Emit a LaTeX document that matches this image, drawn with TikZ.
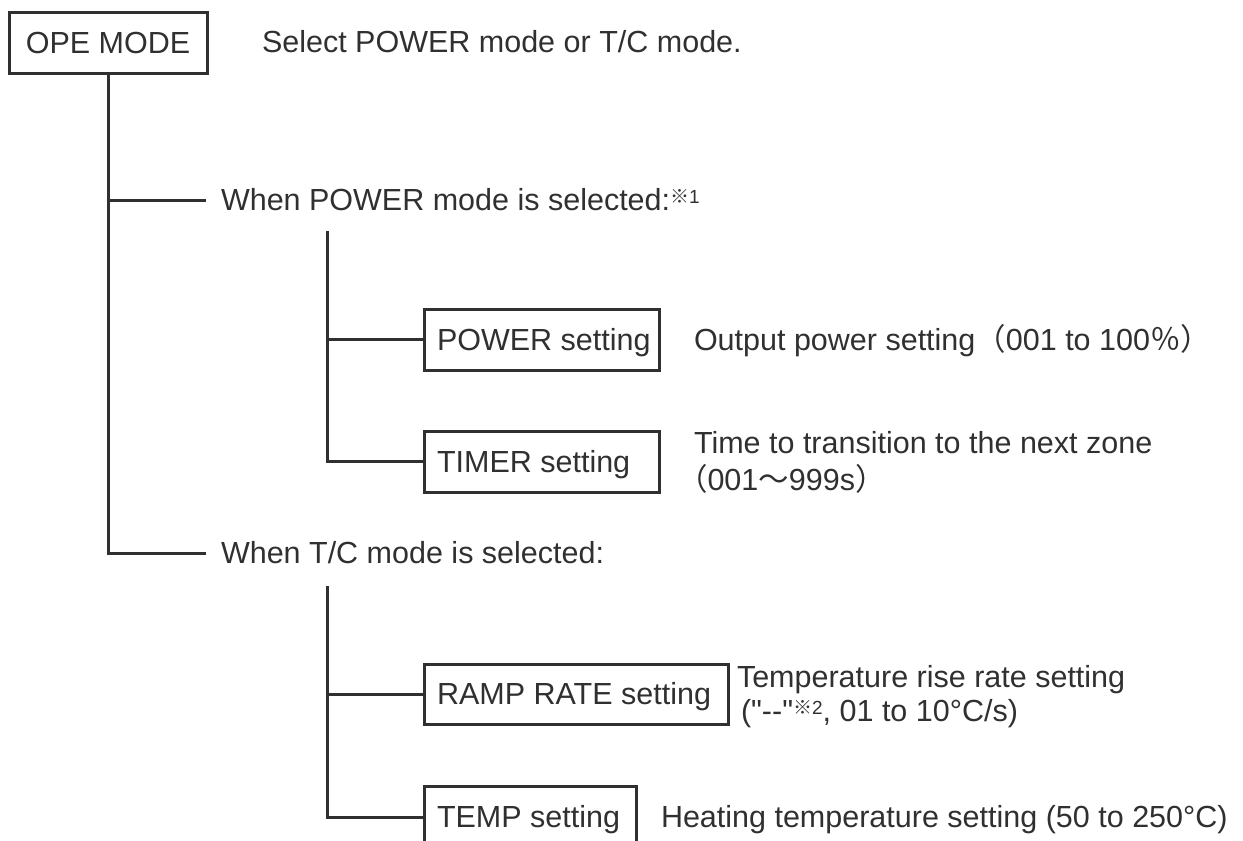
\documentclass[tikz,border=0pt]{standalone}
\usepackage{fontspec}
\setmainfont{Liberation Sans}[Ligatures=TeXOff]
\newfontfamily\cjkfont{Noto Sans CJK JP}
\definecolor{ink}{HTML}{303030}
\newcommand\bxt[2]{\makebox[#1][l]{\hspace{13pt}#2}}
\newcommand\kome[1]{\raisebox{7.5pt}{\fontsize{19}{19}\selectfont{\cjkfont ※}#1}}
\begin{document}
\begin{tikzpicture}[x=1pt,y=-1pt,
  every node/.style={font=\fontsize{30.5}{37}\selectfont, text=ink, inner sep=0pt, outer sep=0pt},
  wire/.style={draw=ink, line width=3pt},
  setbox/.style={draw=ink, line width=3pt, anchor=west, minimum height=61pt, text height=21.8pt, text depth=0pt},
  lbl/.style={anchor=west, text height=21.8pt, text depth=0pt},
  branch/.style={lbl, inner xsep=15pt}]
\useasboundingbox (0,0) rectangle (1243,841);
\clip (0,0) rectangle (1243,841);
% top level
\node[setbox, anchor=center, minimum width=198pt] (ope) at (108,42.5) {OPE MODE};
\node[lbl] (opetxt) at (262,42) {Select POWER mode or T/C mode.};
\node[branch] (pw) at (206,200) {When POWER mode is selected:\kome{1}};
\node[branch] (tc) at (206,553) {When T/C mode is selected:};
\coordinate (ps) at (327,231);
\coordinate (ts) at (327,586);
% POWER mode
\node[setbox] (power) at (424,339.5) {\bxt{235pt}{POWER setting}};
\node[lbl] (powtxt) at (694,339.5) {Output power setting{\cjkfont （}001 to 100{\cjkfont ％）}};
\node[setbox] (timer) at (424,461.5) {\bxt{235pt}{TIMER setting}};
\node[lbl] (timtxt1) at (694,443) {Time to transition to the next zone};
\node[lbl] (timtxt2) at (677,480) {{\cjkfont （}001{\cjkfont ～}999s{\cjkfont ）}};
% T/C mode
\node[setbox, minimum height=60pt] (ramp) at (424,694) {\bxt{304pt}{RAMP RATE setting}};
\node[lbl] (rmptxt1) at (737,677) {Temperature rise rate setting};
\node[lbl] (rmptxt2) at (741,711) {("--"\kome{2}, 01 to 10°C/s)};
\node[setbox] (temp) at (424,817) {\bxt{212pt}{TEMP setting}};
\node[lbl] (tmptxt) at (661,817) {Heating temperature setting (50 to 250°C)};
% connectors
\draw[wire] (ope.south) -- (ope.south |- tc.west) -- (tc.west);
\draw[wire] (ope.south |- pw.west) -- (pw.west);
\draw[wire] (ps) -- (ps |- timer.west) -- (timer.west);
\draw[wire] (ps |- power.west) -- (power.west);
\draw[wire] (ts) -- (ts |- temp.west) -- (temp.west);
\draw[wire] (ts |- ramp.west) -- (ramp.west);
\end{tikzpicture}
\end{document}
